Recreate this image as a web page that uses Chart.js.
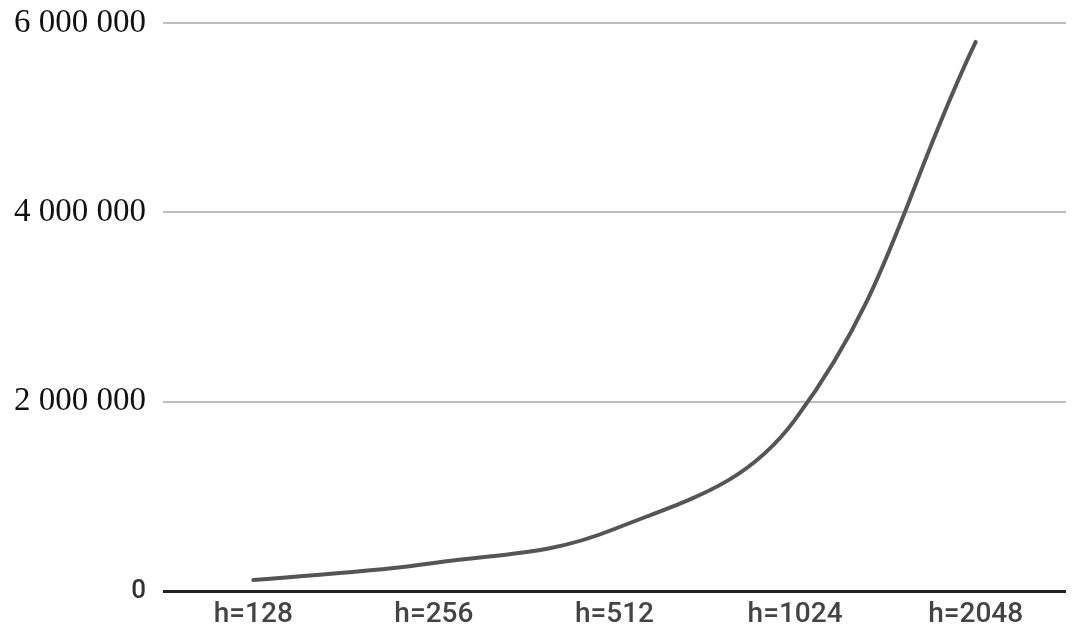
<!DOCTYPE html>
<html>
<head>
<meta charset="utf-8">
<script src="https://cdn.jsdelivr.net/npm/chart.js@4.4.1/dist/chart.umd.min.js"></script>
<style>
  html, body { margin: 0; padding: 0; background: #fff; }
  #wrap { width: 1080px; height: 640px; position: relative; }
</style>
</head>
<body>
<div id="wrap"><canvas id="chart"></canvas></div>
<script>
'use strict';

// data
const categories = ['h=128', 'h=256', 'h=512', 'h=1024', 'h=2048'];
const values = [115000, 295000, 655000, 1810000, 5800000];
const yTicks = [0, 2000000, 4000000, 6000000];

const SERIF = '"Liberation Serif", "Times New Roman", serif';
const SANS = 'Roboto, "Noto Sans", sans-serif';

const fmt = v => String(v).replace(/\B(?=(\d{3})+(?!\d))/g, ' ');

const ctx = document.getElementById('chart').getContext('2d');
new Chart(ctx, {
  type: 'line',
  data: {
    labels: categories,
    datasets: [{
      data: values,
      borderColor: '#555',
      borderWidth: 4,
      borderCapStyle: 'round',
      pointRadius: 0,
      tension: 0.4,
      fill: false
    }]
  },
  options: {
    responsive: true,
    maintainAspectRatio: false,
    animation: false,
    layout: { padding: { top: 23, right: 14, left: 0, bottom: 0 } },
    plugins: { legend: { display: false }, tooltip: { enabled: false } },
    scales: {
      x: {
        offset: true,
        grid: { display: false, drawTicks: false },
        border: { display: false },
        ticks: {
          color: '#444',
          padding: 7,
          font: { family: SANS, size: 28, weight: '500' },
          maxRotation: 0
        },
        afterFit: s => { s.height = 49; }
      },
      y: {
        min: 0,
        max: 6000000,
        afterBuildTicks: s => { s.ticks = yTicks.map(v => ({ value: v })); },
        grid: {
          drawTicks: false,
          color: c => c.tick && c.tick.value === 0 ? '#222' : '#bdbdbd',
          lineWidth: c => c.tick && c.tick.value === 0 ? 3 : 2
        },
        border: { display: false },
        ticks: {
          padding: 17,
          color: c => c.tick && c.tick.value === 0 ? '#333' : '#111',
          font: c => c.tick && c.tick.value === 0
            ? { family: SANS, size: 26, weight: '500' }
            : { family: SERIF, size: 33 },
          callback: v => fmt(v)
        },
        afterFit: s => {
          s.width = 163;
          s.paddingTop = 0;
          s.paddingBottom = 0;
        }
      }
    }
  }
});
</script>
</body>
</html>
